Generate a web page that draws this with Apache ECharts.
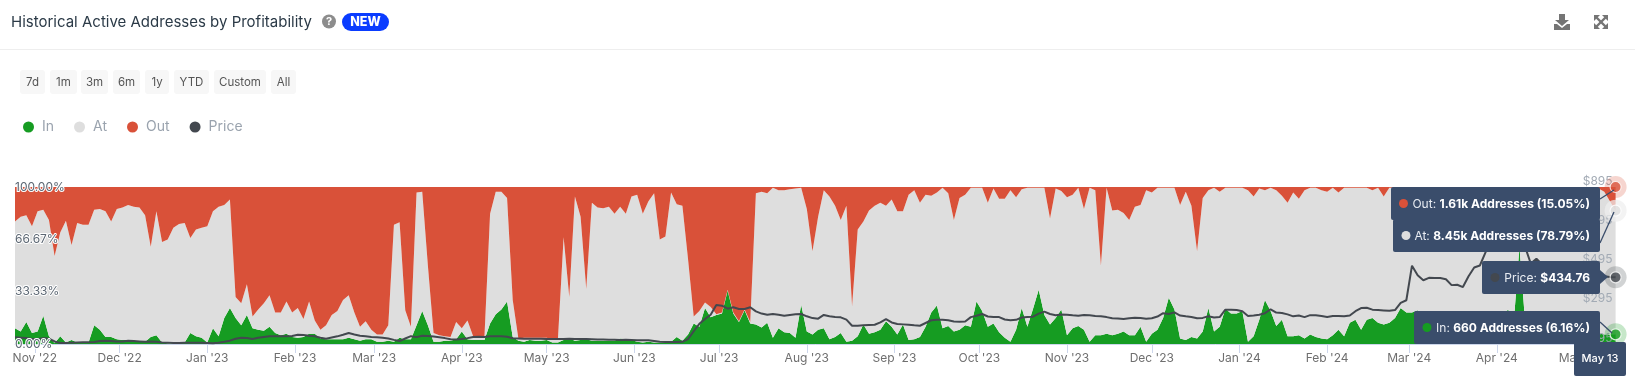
<!DOCTYPE html>
<html><head><meta charset="utf-8">
<style>html,body{margin:0;padding:0;background:#fff}#c{width:1635px;height:386px}</style>
<script src="https://cdn.jsdelivr.net/npm/echarts@6/dist/echarts.min.js"></script>
</head><body><div id="c"></div>
<script>
const chartTitle = 'Historical Active Addresses by Profitability';
const rangeButtons = ['7d','1m','3m','6m','1y','YTD','Custom','All'];
const monthTicks = ['2022-11-01','2022-12-01','2023-01-01','2023-02-01','2023-03-01','2023-04-01','2023-05-01','2023-06-01','2023-07-01','2023-08-01','2023-09-01','2023-10-01','2023-11-01','2023-12-01','2024-01-01','2024-02-01','2024-03-01','2024-04-01','2024-05-01'];
const percentTicks = [0,33.33,66.67,100];
const priceTicks = [95,295,495,695,895];
const firstDay = '2022-10-25';
const stepDays = 2;
const inPct = [10,8,14,7,8,18,5,.5,5,1,
2.5,1,1,1,12,9,4.5,4.5,3,2.5,
2.5,2,2,1.5,4.5,5.5,1,.5,.5,.5,
1,7,5,4,1,10,5,16.5,23,16.5,
12,18.5,10,9,8.5,11,7,5.5,6.5,4.5,
4,4.5,6.5,6.5,3.5,3,3,3,3,4,
3,2,3,3,1.5,1.5,2,1.5,4,3,
3,12,21,12,1.5,1.5,2,2,3,8,
3,2.5,2.5,2.5,13,19,22,27,4.5,2,
1.5,2.5,2,2,2.5,1,1,2.5,3.5,2,
2.5,3,2,2,2,2,2,3.5,3,2.5,
1.5,1,1.5,1,1,1,1.5,4.5,2,6,
13,11,23,17,18.5,19.5,34,19.5,14,21.5,
13,12.5,10.5,13.5,4,10,7.5,7,4,25,
8,6,9,10,3,4.5,7,1.5,2,5,
12.5,6.5,7.5,9,14.5,11,6,12.5,2.5,3,
4.5,11,20,24.5,10,11.5,8,9,12,11,
27,21,11,13,7.5,4,1.5,9,23,11,
22.5,34.5,18.5,12.5,16.5,22,5.5,10,11.5,9,
1.5,5.5,5.5,6.5,5.5,6.5,8,5.5,5.5,11,
1.5,6.5,9,16.5,29.5,22,3.5,2.5,4.5,3.5,
8,23,8,11,22.5,19.5,19.5,21,1.5,5,
15.5,28,21,11.5,15.5,5,5,5.5,3.5,6,
4.5,3.5,3,5.5,9,5,13.5,15.5,9,15.5,
16.5,13.5,12.5,13.5,16.5,23,20,20,21.5,15,
14,13,14,15,13,14,12,13,14,15,
13,14,16,18,22,14,62,14,12,13,
11,12,10,11,9,10,8,7,9,8,
7,6,6,6.16];
const atPct = [68,73,68,68,76.5,67.5,74,55.5,66,77.5,
60.5,76,75,75,73.5,77,80,73.5,83,84.5,
86,85.5,85,80.5,57.5,79,64,66,73.5,76,
76,60.5,68,70,74,74.5,82.5,72,69,13.5,
14,19.5,7.5,13,17.5,20,13,14.5,20.5,15.5,
19,11.5,20.5,8.5,5.5,9,15.5,18,25,27,
17,9,11.5,6,4.5,4.5,10,74.5,73.5,18.5,
8,84.5,76,38,5.5,4,3,2.5,11,2,
12,2.5,2,2,70,78,75,66,23.5,1.5,
2.5,1.5,2,2,1.5,2,2.5,65.5,26.5,92,
78.5,32,88,85,84.5,85.5,81,84,80,91.5,
93.5,82,89.5,95,65.5,67.5,95,84.5,86,48,
4.5,10,3.5,6.5,.5,.5,.5,.5,.5,.5,
1,83.5,86.5,82.5,95.5,88,90.5,91.5,95,74.5,
78,53,72,88,91,83.5,72,86.5,22,68,
65.5,78.5,80.5,81,73.5,81,78.5,72,92.5,95,
85.5,84,74.5,72,89.5,84.5,71,84,83,88.5,
72.5,78.5,79,86,85,88.5,96.5,84.5,75.5,88.5,
77,65,81,67.5,82.5,75.5,88,85,88,77,
98,92.5,44.5,93,79.5,79,75.5,73.5,82,77.5,
96.5,90,90.5,83,70,77.5,85,94.5,83.5,55.5,
85,75,91.5,86,77,80,80,78.5,96.5,89,
83.5,70,78.5,86.5,79,85,91.5,87,94.5,93.5,
95,94.5,94,94,87.5,94.5,86,84,90.5,84,
81.5,86,81.5,86,83,76.5,79.5,79.5,78,84.5,
84,86.5,85,84.5,85,85.5,87,86.5,83.5,84.5,
86,85.5,83.5,81,77.5,84,37.5,85,86,86.5,
88,85,89,87,90.5,88,91,90,90,90,
92,91,85,78.79];
const outPct = [22,19,18,25,15.5,14.5,21,44,29,21.5,
37,23,24,24,14.5,14,15.5,22,14,13,
11.5,12.5,13,18,38,15.5,35,33.5,26,23.5,
23,32.5,27,26,25,15.5,12.5,11.5,8,70,
74,62,82.5,78,74,69,80,80,73,80,
77,84,73,85,91,88,81.5,79,72,69,
80,89,85.5,91,94,94,88,24,22.5,78.5,
89,3.5,3,50,93,94.5,95,95.5,86,90,
85,95,95.5,95.5,17,3,3,7,72,96.5,
96,96,96,96,96,97,96.5,32,70,6,
19,65,10,13,13.5,12.5,17,12.5,17,6,
5,17,9,4,33.5,31.5,3.5,11,12,46,
82.5,79,73.5,76.5,81,80,65.5,80,85.5,78,
86,4,3,4,.5,2,2,1.5,1,.5,
14,41,19,2,6,12,21,12,76,27,
22,15,12,10,12,8,15.5,15.5,5,2,
10,5,5.5,3.5,.5,4,21,7,5,.5,
.5,.5,10,1,7.5,7.5,2,6.5,1.5,.5,
.5,.5,.5,20,1,2.5,6.5,5,.5,14,
.5,2,50,.5,15,14.5,16.5,21,12.5,11.5,
2,3.5,.5,.5,.5,.5,11.5,3,12,41,
7,2,.5,3,.5,.5,.5,.5,2,6,
1,2,.5,2,5.5,10,3.5,7.5,2,.5,
.5,2,3,.5,3.5,.5,.5,.5,.5,.5,
2,.5,6,.5,.5,.5,.5,.5,.5,.5,
2,.5,1,.5,2,.5,1,.5,2.5,.5,
1,.5,.5,1,.5,2,.5,1,2,.5,
1,3,1,2,.5,2,1,3,1,2,
1,3,9,15.05];
const priceUsd = [129,127,125,121,120,125,122,108,100,100,
102,103,104,104,105,110,111,110,108,108,
111,110,108,106,108,106,103,102,100,100,
101,102,102,101,100,99,101,106,112,122,
127,125,121,127,131,134,134,134,135,136,
142,141,137,134,127,122,128,134,142,151,
143,137,135,131,129,127,123,116,110,123,
135,130,137,136,133,129,125,119,118,120,
125,131,132,131,134,135,135,132,124,123,
122,122,122,122,121,120,120,121,122,120,
121,120,119,118,118,117,117,116,117,116,
114,114,114,110,106,105,105,105,106,120,
160,198,222,244,294,290,275,282,273,273,
282,261,250,244,248,244,239,243,246,248,
236,227,224,243,236,233,231,219,188,188,
190,192,193,205,222,205,197,195,193,190,
188,202,216,218,219,216,210,209,210,232,
239,248,235,233,232,220,216,218,230,232,
234,250,260,248,242,245,244,241,239,243,
242,238,236,232,226,225,222,226,229,227,
224,226,235,252,248,256,240,236,233,226,
228,236,230,232,270,270,268,262,238,240,
244,252,272,255,253,246,236,240,232,242,
242,238,233,238,238,236,240,262,278,280,
270,268,266,264,268,305,318,494,445,420,
432,431,431,425,395,397,385,440,485,495,
562,610,660,700,725,735,690,590,505,530,
500,490,480,472,468,470,462,456,450,446,
444,440,437,434.76];

const DAY = 864e5, t0 = Date.parse(firstDay + 'T00:00:00Z');
const dates = inPct.map((_, i) => t0 + i * stepDays * DAY);
const pair = a => a.map((v, i) => [dates[i], v]);
const lastDate = dates[dates.length - 1], n = dates.length - 1;
const C = {in:'#169c22', at:'#dedede', out:'#d95139', price:'#43484f', box:'#3a4d6b'};
const MONTHS = ['Jan','Feb','Mar','Apr','May','Jun','Jul','Aug','Sep','Oct','Nov','Dec'];
const fontF = 'Inter, "Noto Sans", sans-serif';
const tickTimes = monthTicks.map(d => Date.parse(d + 'T00:00:00Z'));

function area(name, arr, color){
  return {name, type:'line', stack:'p', data:pair(arr), symbol:'none', showSymbol:false,
    lineStyle:{width:0}, itemStyle:{color}, areaStyle:{color, opacity:1}, emphasis:{disabled:true}, z:2};
}
function endDot(value, axis, color, halo){
  return [
   {type:'scatter', yAxisIndex:axis, data:[[lastDate,value]], symbolSize:22, clip:false, silent:true, z:6,
     itemStyle:{color:halo}},
   {type:'scatter', yAxisIndex:axis, data:[[lastDate,value]], symbolSize:11, clip:false, silent:true, z:7,
     itemStyle:{color, borderColor:'#fff', borderWidth:1.2}}
  ];
}

const g = [];
const rect = (x,y,w,h,fill,r,z) => g.push({type:'rect', silent:true, z:z||100, shape:{x,y,width:w,height:h,r:r||0}, style:{fill}});
const txt = (x,y,t,o) => g.push({type:'text', silent:true, z:(o&&o.z)||101, x, y, style:Object.assign({text:t, fontFamily:fontF, fontSize:12, fill:'#555', align:'left', verticalAlign:'middle'}, o||{})});
const dot = (x,y,r,fill,z) => g.push({type:'circle', silent:true, z:z||101, shape:{cx:x,cy:y,r}, style:{fill}});
const seg = (x1,y1,x2,y2,stroke,w,z) => g.push({type:'line', silent:true, z:z||100, shape:{x1,y1,x2,y2}, style:{stroke, lineWidth:w||1}});
const poly = (pts,fill,z) => g.push({type:'polygon', silent:true, z:z||100, shape:{points:pts}, style:{fill}});

// header
rect(0,49,1635,1,'#eeeeee');
dot(329,21.5,7,'#8c8c8c');
txt(329,22,'?',{align:'center',fontSize:11,fontWeight:700,fill:'#fff',z:102});
rect(342,13,47,18,'#0a3cff',9);
txt(365.5,22.5,'NEW',{align:'center',fontSize:12.5,fontWeight:800,fill:'#fff'});
const btnX = [[20,25],[50,27],[81,27],[113,27],[145,24],[174,35],[214,52],[271,25]];
rangeButtons.forEach((b,i) => {
  rect(btnX[i][0],70,btnX[i][1],24,'#f7f7f7',3);
  txt(btnX[i][0]+btnX[i][1]/2,83,b,{align:'center',fontSize:11.5,fill:'#555'});
});
// download icon
const ic = '#757575';
poly([[1559,14],[1565,14],[1565,20],[1569,20],[1562,26],[1555,20],[1559,20]],ic);
poly([[1554,24],[1557,24],[1562,28],[1567,24],[1570,24],[1570,30],[1554,30]],ic);
// expand icon
seg(1596,17,1606,27,ic,2.4); seg(1606,17,1596,27,ic,2.4);
poly([[1594,15],[1600,15],[1594,21]],ic); poly([[1608,15],[1602,15],[1608,21]],ic);
poly([[1594,29],[1600,29],[1594,23]],ic); poly([[1608,29],[1602,29],[1608,23]],ic);

// tooltips
function tip(x,y,w,h,dotX,dotColor,label,val){
  rect(x,y,w,h,C.box,2,100);
  dot(dotX,y+h/2,4.5,dotColor,101);
  g.push({type:'text', silent:true, z:101, x:1590, y:y+h/2+0.5, style:{
    text:'{a|'+label+': }{b|'+val+'}', align:'right', verticalAlign:'middle',
    rich:{a:{fontFamily:fontF,fontSize:12,fill:'#e8ecf2',color:'#e8ecf2'},b:{fontFamily:fontF,fontSize:12,fontWeight:700,fill:'#fff',color:'#fff'}}
  }});
}
seg(1600,199,1614,190,C.box,1.3,99);
seg(1600,243,1614,212,C.box,1.3,99);
seg(1600,322,1612,333,C.box,1.3,99);
poly([[1600,270],[1608,277],[1600,284]],C.box,100);
tip(1391,187,209,33,1403.5,C.out,'Out','1.61k Addresses (15.05%)');
tip(1393,219,207,33,1406,C.at,'At','8.45k Addresses (78.79%)');
tip(1482,261,118,33,1495,C.price,'Price','$434.76');
tip(1414,311,186,33,1427,C.in,'In','660 Addresses (6.16%)');
rect(1574,342,52,34,C.box,2,100);
txt(1600,359,'May 13',{align:'center',fontSize:11,fontWeight:500,fill:'#fff'});

const option = {
  animation:false, backgroundColor:'#fff',
  textStyle:{fontFamily:fontF},
  title:{text:chartTitle, left:11, top:15, padding:0, textStyle:{fontFamily:fontF,fontSize:15,fontWeight:400,color:'#2b3a47'}},
  legend:{left:23, top:120, padding:0, itemWidth:11, itemHeight:11, itemGap:20, icon:'circle',
    data:['In','At','Out','Price'], selectedMode:false,
    textStyle:{fontFamily:fontF,fontSize:14,color:'#9aa3ae',padding:[0,0,0,3]}},
  grid:{left:15, right:19.4, top:187, height:157, containLabel:false},
  xAxis:[
   {type:'time', min:t0, max:lastDate, position:'bottom', splitLine:{show:false},
    axisLine:{show:true,onZero:false,lineStyle:{color:'#ccd6eb',width:1}},
    axisTick:{show:false}, axisLabel:{show:false}},
   {type:'value', min:t0, max:lastDate, position:'bottom', splitLine:{show:false},
    axisLine:{show:false,onZero:false},
    axisTick:{show:true,length:9,lineStyle:{color:'#ccd6eb'},customValues:tickTimes},
    axisLabel:{color:'#6f6f6f',fontSize:12,margin:8,fontFamily:fontF,hideOverlap:false,showMinLabel:true,showMaxLabel:true,
      customValues:tickTimes,
      formatter:v=>{const d=new Date(v);return MONTHS[d.getUTCMonth()]+" '"+String(d.getUTCFullYear()).slice(2);}}}
  ],
  yAxis:[
   {type:'value',min:0,max:100,position:'left',z:5,splitLine:{show:false},axisLine:{show:false},axisTick:{show:false},
    axisLabel:{inside:true,margin:0,fontSize:12,fontFamily:fontF,color:'#5c6773',textBorderColor:'#fff',textBorderWidth:2,
      customValues:percentTicks,formatter:v=>v.toFixed(2)+'%'}},
   {type:'value',min:95,max:895,position:'right',z:5,splitLine:{show:false},axisLine:{show:false},axisTick:{show:false},
    axisLabel:{inside:true,margin:3,fontSize:12,fontFamily:fontF,color:'#a3abb5',verticalAlign:'bottom',
      customValues:priceTicks,formatter:v=>'$'+v}}
  ],
  series:[
    area('In',inPct,C.in), area('At',atPct,C.at), area('Out',outPct,C.out),
    {name:'Price',type:'line',yAxisIndex:1,data:pair(priceUsd),symbol:'none',showSymbol:false,
      lineStyle:{width:2,color:C.price},itemStyle:{color:C.price},emphasis:{disabled:true},z:4},
    ...endDot(inPct[n],0,C.in,'rgba(22,156,34,0.3)'),
    ...endDot(inPct[n]+atPct[n],0,C.at,'rgba(238,238,238,0.9)'),
    ...endDot(inPct[n]+atPct[n]+outPct[n],0,C.out,'rgba(217,81,57,0.3)'),
    ...endDot(priceUsd[n],1,C.price,'rgba(67,72,79,0.3)')
  ],
  graphic:{elements:g}
};
const chart = echarts.init(document.getElementById('c'));
chart.setOption(option);
</script></body></html>
